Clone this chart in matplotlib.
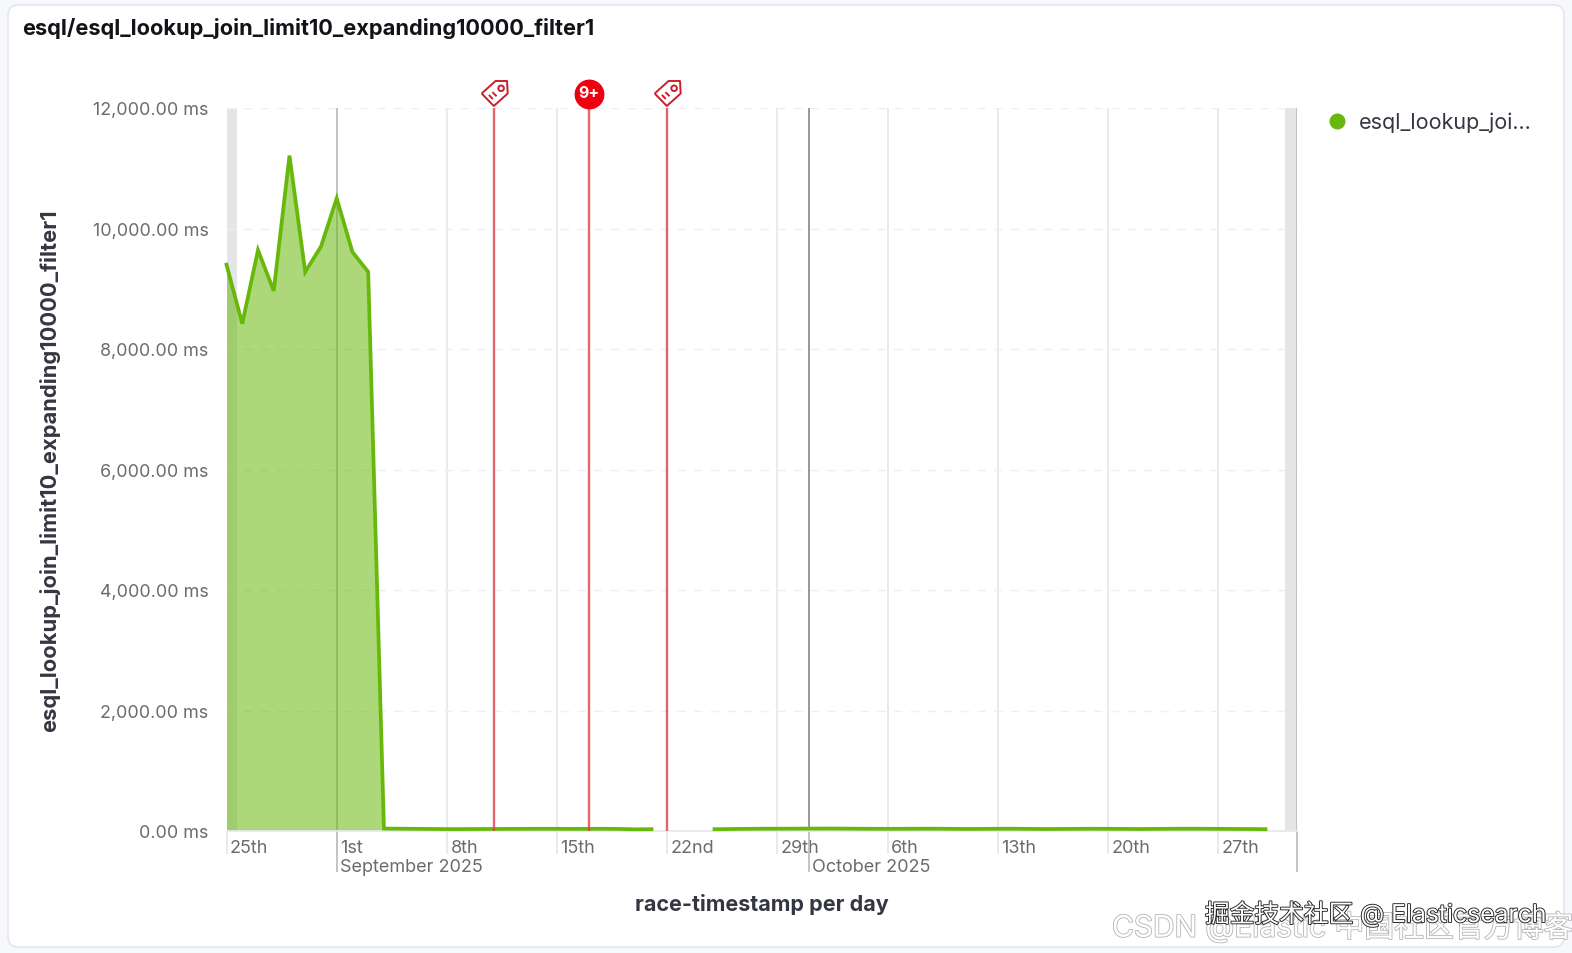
import numpy as np
import pandas as pd
import matplotlib
matplotlib.use("Agg")
import matplotlib.pyplot as plt
import matplotlib.patheffects as pe
from matplotlib.lines import Line2D
from matplotlib.patches import FancyBboxPatch
from matplotlib.path import Path
from matplotlib.transforms import Affine2D, ScaledTranslation

plt.rcParams['font.family'] = ['Inter', 'Noto Sans CJK SC', 'DejaVu Sans']

titulo = "esql/esql_lookup_join_limit10_expanding10000_filter1"
serie = "esql_lookup_join_limit10_expanding10000_filter1"
leyenda = "esql_lookup_joi..."

# un valor por dia desde el 25 de agosto, nan = sin dato
fechas = pd.date_range("2025-08-25", "2025-10-30", freq="D")
valores = [
    9400, 8420, 9640, 8965, 11210, 9280, 9700, 10500, 9610, 9280,
    40, 38, 36, 34, 32, 32, 33, 34, 35, 36,
    37, 36, 35, 36, 37, 34, 28, 30, np.nan, np.nan,
    np.nan, 30, 33, 36, 38, 38, 39, 40, 41, 40,
    38, 37, 36, 37, 38, 38, 36, 34, 35, 37,
    38, 35, 33, 34, 36, 37, 36, 35, 33, 35,
    37, 38, 37, 36, 34, 33, 30,
]

semanas = pd.date_range("2025-08-25", "2025-10-27", freq="7D")
etiquetas_semana = ["25th", "1st", "8th", "15th", "22nd", "29th", "6th", "13th", "20th", "27th"]
meses = pd.to_datetime(["2025-09-01", "2025-10-01", "2025-11-01"])
etiquetas_mes = ["September 2025", "October 2025", ""]
colores_mes = ["#bcc0c6", "#8c9096", "#bcc0c6"]
anotaciones = pd.to_datetime(["2025-09-11", "2025-09-17", "2025-09-22"])
tipo_anotacion = ["tag", "9+", "tag"]

ANCHO, ALTO = 1572, 954
VERDE = "#68b80c"
ROJO = "#e0404a"
GRIS_TEXTO = "#6a6c70"


def marcador_tag():
    # etiqueta girada con dos rayas y un agujero
    contorno = [(-37, 0), (-2, -36), (38, 0), (36, 36), (3, 36), (-37, 0)]
    verts = list(contorno)
    codes = [Path.MOVETO] + [Path.LINETO] * 5
    for a, b in [((-16, -4), (-5, -16)), ((-6, 4), (6, -8))]:
        verts += [a, b]
        codes += [Path.MOVETO, Path.LINETO]
    circulo = Path.unit_circle().transformed(Affine2D().scale(8).translate(19, 15))
    verts += [tuple(v) for v in circulo.vertices]
    codes += list(circulo.codes)
    return Path(verts, codes)


fig = plt.figure(figsize=(ANCHO / 100, ALTO / 100), dpi=100, facecolor="#f6f8fb")

# fondo en pixeles: tarjeta, titulo y marcas de agua
fondo = fig.add_axes([0, 0, 1, 1], zorder=-1)
fondo.set_xlim(0, ANCHO)
fondo.set_ylim(ALTO, 0)
fondo.axis("off")
fondo.add_patch(FancyBboxPatch((16, 14), 1540, 926, boxstyle="round,pad=8,rounding_size=10",
                               facecolor="white", edgecolor="#dfe3ec", linewidth=1))
fondo.text(22, 28.5, titulo, fontsize=15.7, fontweight="bold", color="#111318", va="center", ha="left")
fondo.text(1112, 928, "CSDN @Elastic 中国社区官方博客", fontsize=21.5, color="white", va="center", ha="left",
           clip_on=True, path_effects=[pe.withStroke(linewidth=1.2, foreground="#b4b4b4")])
fondo.text(1205, 915, "掘金技术社区 @ Elasticsearch", fontsize=17.8, color="white", va="center", ha="left",
           path_effects=[pe.withStroke(linewidth=1.3, foreground="#222222")])

ax = fig.add_axes([226.5 / ANCHO, 1 - 832 / ALTO, (1297 - 226.5) / ANCHO, (832 - 109) / ALTO])
ax.patch.set_alpha(0)
ax.set_xlim(pd.Timestamp("2025-08-25"), pd.Timestamp("2025-11-01"))
ax.set_ylim(0, 12000)

# bandas grises de los extremos
ax.axvspan(pd.Timestamp("2025-08-25"), pd.Timestamp("2025-08-25 16:00"), color="#e3e5e6", lw=0, zorder=0)
ax.axvspan(pd.Timestamp("2025-10-31 05:00"), pd.Timestamp("2025-11-01"), color="#e3e5e6", lw=0, zorder=0)

ax.grid(True, axis="y", color="#eeeff1", linestyle=(0, (6, 6)), linewidth=1)
ax.grid(True, axis="x", color="#e6e8eb", linewidth=1.3)
ax.set_axisbelow(True)

for mes, color in zip(meses, colores_mes):
    ax.axvline(mes, color=color, linewidth=1.3, zorder=1)

ax.fill_between(fechas, valores, 0, color=VERDE, alpha=0.55, linewidth=0, zorder=2)
ax.plot(fechas, valores, color=VERDE, linewidth=2.7, solid_joinstyle="miter", clip_on=False, zorder=3)

# anotaciones rojas
trans = ax.get_xaxis_transform()
sube = trans + ScaledTranslation(0, 15 / 100, fig.dpi_scale_trans)
for fecha, tipo in zip(anotaciones, tipo_anotacion):
    ax.axvline(fecha, color=ROJO, linewidth=1.7, alpha=0.8, zorder=4)
    if tipo == "tag":
        ax.plot([fecha], [1.0], transform=sube, marker=marcador_tag(), markersize=19,
                markerfacecolor="none", markeredgecolor="#c8202a", markeredgewidth=1.4,
                clip_on=False, linestyle="none", zorder=5)
    else:
        ax.plot([fecha], [1.0], transform=trans + ScaledTranslation(0, 14 / 100, fig.dpi_scale_trans),
                marker="o", markersize=20.5, color="#f0000f", clip_on=False, linestyle="none", zorder=5)
        ax.text(fecha, 1.0, tipo, transform=sube, color="white", fontsize=11.5, fontweight="bold",
                ha="center", va="center", zorder=6)

for lado in ["top", "left", "right"]:
    ax.spines[lado].set_visible(False)
ax.spines["bottom"].set_color("#e6e8eb")
ax.spines["bottom"].set_linewidth(1.3)

ax.yaxis.set_major_locator(plt.MultipleLocator(2000))
ax.yaxis.set_major_formatter(lambda v, pos: f"{v:,.2f} ms")
ax.tick_params(axis="y", length=0, pad=13, labelsize=12.9, labelcolor=GRIS_TEXTO)

ax.xaxis.remove_overlapping_locs = False
ax.set_xticks(semanas, etiquetas_semana)
ax.set_xticks(meses, etiquetas_mes, minor=True)
ax.tick_params(axis="x", which="major", length=16.5, width=1.3, color="#e6e8eb", pad=-10.5,
               labelsize=13, labelcolor=GRIS_TEXTO)
ax.tick_params(axis="x", which="minor", length=29.5, width=1.3, color="#bcc0c6", pad=-10,
               labelsize=13, labelcolor=GRIS_TEXTO)
corrimiento = ScaledTranslation(3.5 / 100, 0, fig.dpi_scale_trans)
for etiqueta in ax.get_xticklabels() + ax.get_xticklabels(minor=True):
    etiqueta.set_ha("left")
    etiqueta.set_transform(etiqueta.get_transform() + corrimiento)

ax.set_xlabel("race-timestamp per day", fontsize=15.5, fontweight="bold", color="#343741", labelpad=13)
ax.set_ylabel(serie, fontsize=15.8, fontweight="bold", color="#343741")
ax.yaxis.set_label_coords(-166.5 / (1297 - 226.5), 0.5)

marca = Line2D([], [], linestyle="none", marker="o", markersize=10.5, color=VERDE)
ax.legend([marca], [leyenda], loc="center left", frameon=False, fontsize=15.5, labelcolor="#343741",
          bbox_to_anchor=(1326 / ANCHO, 1 - 123 / ALTO), bbox_transform=fig.transFigure,
          handlelength=1, handletextpad=0.52, borderpad=0, borderaxespad=0)

fig.savefig("out.png", dpi=100, facecolor=fig.get_facecolor())
